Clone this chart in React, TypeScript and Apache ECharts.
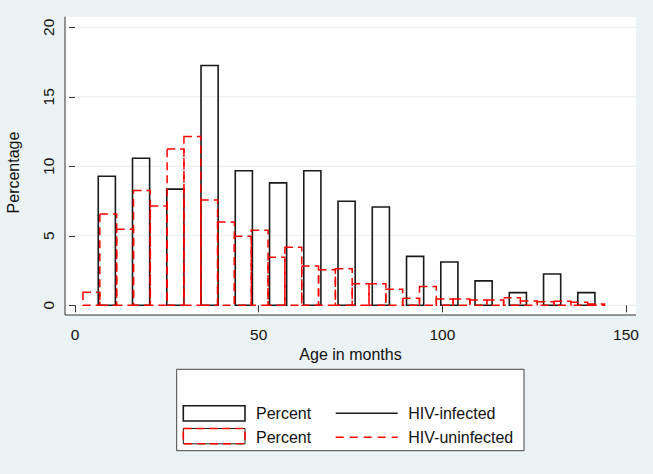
import React, { useEffect, useRef } from "react";
import * as echarts from "echarts";

// HIV-infected: percent per age bin (bins of ~9.3 months, drawn with 50% gap)
const infectedBinStart = 4.0;
const infectedBinWidth = 9.325;
const infectedPct = [9.28, 10.58, 8.36, 17.25, 9.68, 8.81, 9.68, 7.49, 7.07, 3.52, 3.12, 1.76, 0.91, 2.25, 0.91];

// HIV-uninfected: percent per age bin (bins of ~4.6 months)
const uninfectedBinStart = 2.18;
const uninfectedBinWidth = 4.58;
const uninfectedPct = [
  0.94, 6.57, 5.48, 8.26, 7.15, 11.25, 12.15, 7.58, 5.99, 4.97, 5.4, 3.45, 4.17, 2.83, 2.56, 2.63,
  1.55, 1.55, 1.16, 0.5, 1.35, 0.45, 0.45, 0.38, 0.38, 0.55, 0.31, 0.26, 0.3, 0.22, 0.1,
];

const xTicks = [0, 50, 100, 150];
const yTicks = [0, 5, 10, 15, 20];

const FONT = "'Liberation Sans', Arial, Helvetica, sans-serif";
const BG = "#EAF2F3";

export default function App() {
  const ref = useRef<HTMLDivElement>(null);

  useEffect(() => {
    document.body.style.margin = "0";
    if (!ref.current) return;
    const chart = echarts.init(ref.current, null, { renderer: "svg" });

    const infectedData = infectedPct.map((v, i) => [
      infectedBinStart + i * infectedBinWidth,
      infectedBinStart + (i + 1) * infectedBinWidth,
      v,
    ]);
    const uninfectedData = uninfectedPct.map((v, i) => [
      uninfectedBinStart + i * uninfectedBinWidth,
      uninfectedBinStart + (i + 1) * uninfectedBinWidth,
      v,
    ]);

    const plotL = 65, plotR = 636, plotT = 16.7, plotB = 315;

    const option: any = {
      animation: false,
      backgroundColor: BG,
      textStyle: { fontFamily: FONT },
      grid: { left: 75, right: 27, top: 27.3, bottom: 168.7, containLabel: false },
      xAxis: {
        type: "value",
        min: xTicks[0],
        max: xTicks[xTicks.length - 1],
        interval: 50,
        offset: 9.7,
        axisLine: { show: false },
        axisTick: { show: true, length: 7, lineStyle: { color: "#333", width: 1 } },
        axisLabel: { margin: 11, fontSize: 15.5, color: "#111", fontFamily: FONT },
        splitLine: { show: false },
        name: "Age in months",
        nameLocation: "middle",
        nameGap: 28,
        nameTextStyle: { fontSize: 16, color: "#111", fontFamily: FONT },
      },
      yAxis: {
        type: "value",
        min: yTicks[0],
        max: yTicks[yTicks.length - 1],
        interval: 5,
        offset: 10,
        axisLine: { show: false },
        axisTick: { show: true, length: 6, lineStyle: { color: "#333", width: 1 } },
        axisLabel: { rotate: 90, margin: 9, fontSize: 15.5, color: "#111", fontFamily: FONT },
        splitLine: { show: false },
      },
      series: [
        {
          type: "custom",
          name: "HIV-infected",
          data: infectedData,
          encode: { x: [0, 1], y: 2 },
          z: 3,
          renderItem: (params: any, api: any) => {
            const x0 = api.value(0), x1 = api.value(1), y = api.value(2);
            const c = (x0 + x1) / 2, hw = (x1 - x0) / 4;
            const p0 = api.coord([c - hw, y]);
            const p1 = api.coord([c + hw, 0]);
            return {
              type: "rect",
              shape: { x: p0[0], y: p0[1], width: p1[0] - p0[0], height: p1[1] - p0[1] },
              style: { fill: "none", stroke: "#1a1a1a", lineWidth: 1.6 },
            };
          },
        },
        {
          type: "custom",
          name: "HIV-uninfected",
          data: uninfectedData,
          encode: { x: [0, 1], y: 2 },
          z: 4,
          renderItem: (params: any, api: any) => {
            const x0 = api.value(0), x1 = api.value(1), y = api.value(2);
            const p0 = api.coord([x0, y]);
            const p1 = api.coord([x1, 0]);
            return {
              type: "rect",
              shape: { x: p0[0], y: p0[1], width: p1[0] - p0[0], height: p1[1] - p0[1] },
              style: { fill: "none", stroke: "#ff0000", lineWidth: 1.5, lineDash: [8, 5] },
            };
          },
        },
      ],
    };
    chart.setOption(option);

    const gridLines = yTicks.map((v) => {
      const py = chart.convertToPixel({ yAxisIndex: 0 }, v) as number;
      return {
        type: "line",
        z: -5,
        silent: true,
        shape: { x1: plotL, y1: py, x2: plotR, y2: py },
        style: { stroke: "#E6EEF0", lineWidth: 1 },
      };
    });

    const legL = 176.7, legT = 369.3;
    chart.setOption({
      graphic: [
        {
          type: "rect",
          z: -10,
          silent: true,
          shape: { x: plotL, y: plotT, width: plotR - plotL, height: plotB - plotT },
          style: { fill: "#ffffff" },
        },
        ...gridLines,
        {
          type: "line",
          z: 10,
          shape: { x1: plotL, y1: plotB, x2: plotR, y2: plotB },
          style: { stroke: "#333", lineWidth: 1 },
        },
        {
          type: "line",
          z: 10,
          shape: { x1: plotL, y1: plotT, x2: plotL, y2: plotB },
          style: { stroke: "#333", lineWidth: 1 },
        },
        {
          type: "text",
          x: 13,
          y: 172.5,
          rotation: Math.PI / 2,
          style: {
            text: "Percentage",
            fontSize: 16,
            fontFamily: FONT,
            fill: "#111",
            align: "center",
            verticalAlign: "middle",
          },
        },
        // legend
        {
          type: "rect",
          shape: { x: legL, y: legT, width: 347.3, height: 81.4 },
          style: { fill: "#ffffff", stroke: "#444", lineWidth: 1 },
        },
        {
          type: "rect",
          shape: { x: 183.3, y: 405.7, width: 61.7, height: 15.3 },
          style: { fill: "#ffffff", stroke: "#1a1a1a", lineWidth: 1.6 },
        },
        {
          type: "rect",
          shape: { x: 183.3, y: 428.5, width: 61.7, height: 15.3 },
          style: { fill: "#ffffff", stroke: "#1a1a1a", lineWidth: 1 },
        },
        {
          type: "rect",
          shape: { x: 183.3, y: 428.5, width: 61.7, height: 15.3 },
          style: { fill: "none", stroke: "#ff0000", lineWidth: 1.6, lineDash: [8, 5] },
        },
        {
          type: "text",
          x: 256,
          y: 413.3,
          style: { text: "Percent", fontSize: 16, fontFamily: FONT, fill: "#111", verticalAlign: "middle" },
        },
        {
          type: "text",
          x: 256,
          y: 437.3,
          style: { text: "Percent", fontSize: 16, fontFamily: FONT, fill: "#111", verticalAlign: "middle" },
        },
        {
          type: "line",
          shape: { x1: 335.7, y1: 413.3, x2: 397.7, y2: 413.3 },
          style: { stroke: "#1a1a1a", lineWidth: 1.6 },
        },
        {
          type: "line",
          shape: { x1: 335.7, y1: 437.3, x2: 397.7, y2: 437.3 },
          style: { stroke: "#ff0000", lineWidth: 1.6, lineDash: [8, 6] },
        },
        {
          type: "text",
          x: 408.3,
          y: 413.3,
          style: { text: "HIV-infected", fontSize: 16, fontFamily: FONT, fill: "#111", verticalAlign: "middle" },
        },
        {
          type: "text",
          x: 408.3,
          y: 437.3,
          style: { text: "HIV-uninfected", fontSize: 16, fontFamily: FONT, fill: "#111", verticalAlign: "middle" },
        },
      ],
    });

    return () => chart.dispose();
  }, []);

  return <div ref={ref} style={{ width: 653, height: 474 }} />;
}
